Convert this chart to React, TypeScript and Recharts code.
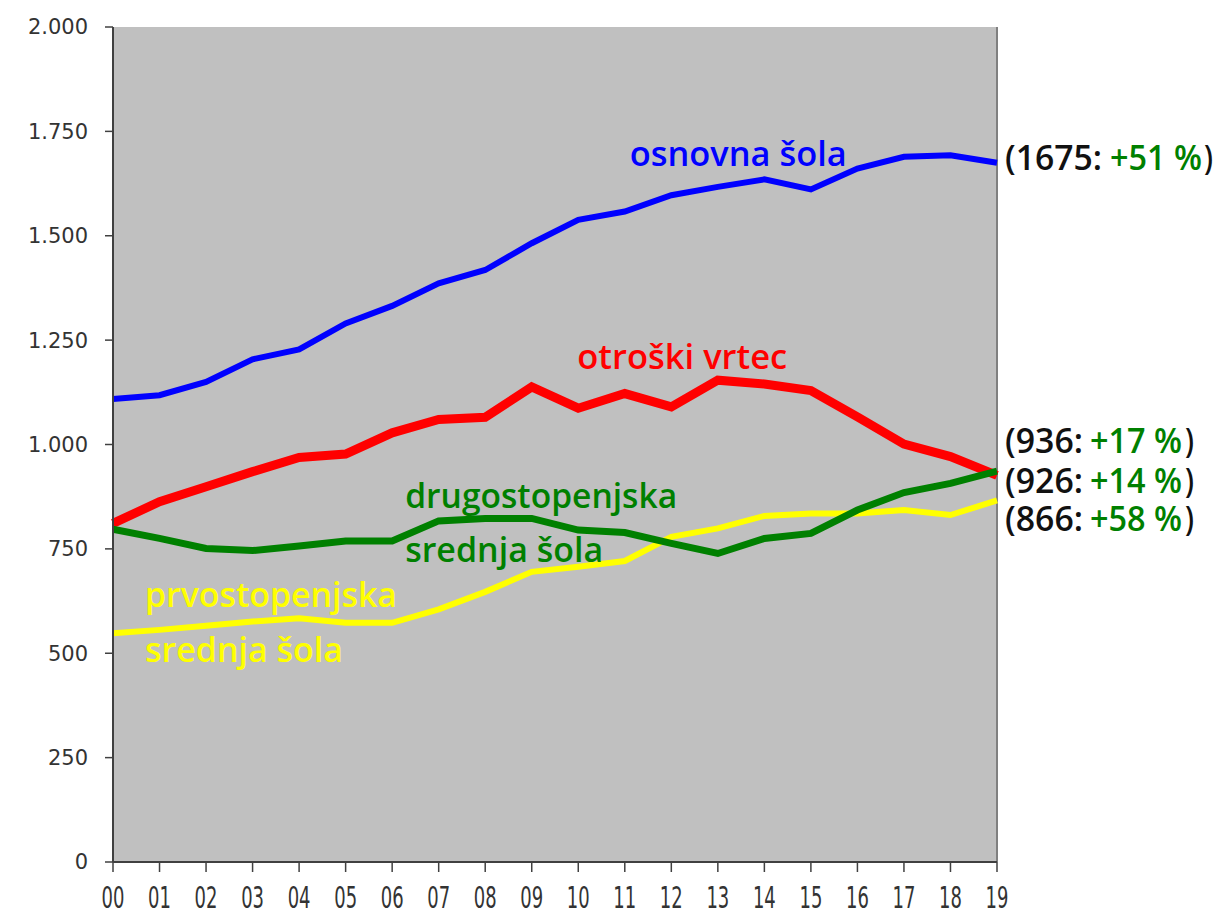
import React from "react";
import {
  LineChart,
  Line,
  XAxis,
  YAxis,
  CartesianGrid,
  ReferenceLine,
  ReferenceDot,
} from "recharts";

const years = ["00", "01", "02", "03", "04", "05", "06", "07", "08", "09", "10", "11", "12", "13", "14", "15", "16", "17", "18", "19"];
const osnovnaSola = [1109, 1118, 1150, 1204, 1228, 1290, 1332, 1386, 1418, 1482, 1538, 1558, 1597, 1617, 1635, 1611, 1661, 1689, 1693, 1675];
const otroskiVrtec = [811, 863, 899, 935, 969, 977, 1028, 1060, 1065, 1138, 1087, 1122, 1090, 1154, 1145, 1129, 1066, 1001, 971, 926];
const drugostopenjska = [797, 775, 751, 746, 757, 769, 769, 817, 823, 823, 795, 789, 763, 739, 775, 787, 843, 885, 907, 936];
const prvostopenjska = [548, 556, 566, 576, 584, 573, 573, 605, 647, 695, 707, 721, 779, 799, 829, 835, 835, 843, 831, 866];
const yTicks = [0, 250, 500, 750, 1000, 1250, 1500, 1750, 2000];

const data = years.map((y, i) => ({
  year: y,
  os: osnovnaSola[i],
  ov: otroskiVrtec[i],
  dr: drugostopenjska[i],
  pr: prvostopenjska[i],
}));

// inline series labels: anchored at a category and a value
const seriesLabels = [
  { text: "osnovna šola", x: "11", y: 1667, color: "#0000FF", dx: 5, len: 217 },
  { text: "otroški vrtec", x: "10", y: 1181, color: "#FF0000", dx: -1, len: 210 },
  { text: "drugostopenjska", x: "06", y: 848, color: "#008000", dx: 13, len: 272 },
  { text: "srednja šola", x: "06", y: 719, color: "#008000", dx: 13, len: 198 },
  { text: "prvostopenjska", x: "00", y: 611, color: "#FFFF00", dx: 32, len: 252 },
  { text: "srednja šola", x: "00", y: 479, color: "#FFFF00", dx: 32, len: 198 },
];

// end-of-line value labels
const endValues = ["1675", "936", "926", "866"];
const endChanges = ["+51 %", "+17 %", "+14 %", "+58 %"];
const endY = [1657, 980, 884, 793];

const fmt = (v: number) => (v >= 1000 ? `${Math.floor(v / 1000)}.${String(v % 1000).padStart(3, "0")}` : String(v));

const XTick = (props: any) => {
  const { x, y, payload } = props;
  return (
    <g transform={`translate(${x},${y})`}>
      <text
        transform="scale(0.6,1)"
        textAnchor="middle"
        dy={34}
        fontFamily="DejaVu Sans"
        fontSize={30}
        fill="#333333"
      >
        {payload.value}
      </text>
    </g>
  );
};

const labelFont = "'Open Sans', 'Noto Sans', sans-serif";

const EndLabel = ({ cx, cy, value, change }: any) => {
  const wide = value.length > 3;
  const blackLen = wide ? 97 : 78;
  const greenX = wide ? 105 : 85;
  const parenX = wide ? 199 : 180;
  const common = {
    y: cy,
    fontFamily: labelFont,
    fontWeight: 600,
    fontSize: 34,
    lengthAdjust: "spacingAndGlyphs" as const,
  };
  return (
    <g>
      <text {...common} x={cx + 8} fill="#111111" textLength={blackLen}>{`(${value}:`}</text>
      <text {...common} x={cx + 8 + greenX} fill="#008000" textLength={92}>{change}</text>
      <text {...common} x={cx + 8 + parenX} fill="#111111" textLength={9}>{")"}</text>
    </g>
  );
};

export default function App() {
  return (
    <div style={{ position: "absolute", left: 0, top: 0, width: 1218, height: 915, background: "#fff" }}>
      <LineChart
        width={1218}
        height={915}
        data={data}
        margin={{ top: 27, right: 221, bottom: 0, left: 0 }}
      >
        <CartesianGrid horizontal={false} vertical={false} fill="#C0C0C0" fillOpacity={1} stroke="none" />
        <ReferenceLine x="19" stroke="#808080" strokeWidth={2} />
        <XAxis
          dataKey="year"
          height={53}
          interval={0}
          tickSize={10}
          tickMargin={2}
          tick={<XTick />}
          axisLine={{ stroke: "#404040", strokeWidth: 2 }}
          tickLine={{ stroke: "#404040", strokeWidth: 1.5 }}
        />
        <YAxis
          width={113}
          domain={[0, 2000]}
          ticks={yTicks}
          interval={0}
          tickSize={8}
          tickMargin={17}
          tickFormatter={fmt}
          tick={{ fontFamily: "DejaVu Sans", fontSize: 21, fill: "#333333" }}
          axisLine={{ stroke: "#404040", strokeWidth: 2 }}
          tickLine={{ stroke: "#404040", strokeWidth: 1.5 }}
        />
        <Line dataKey="os" stroke="#0000FF" strokeWidth={6} dot={false} isAnimationActive={false} />
        <Line dataKey="ov" stroke="#FF0000" strokeWidth={9} dot={false} isAnimationActive={false} />
        <Line dataKey="pr" stroke="#FFFF00" strokeWidth={6} dot={false} isAnimationActive={false} />
        <Line dataKey="dr" stroke="#008000" strokeWidth={7} dot={false} isAnimationActive={false} />
        {seriesLabels.map((l, i) => (
          <ReferenceDot
            key={"s" + i}
            x={l.x}
            y={l.y}
            r={1}
            ifOverflow="visible"
            shape={(p: any) => (
              <text
                x={p.cx + l.dx}
                y={p.cy}
                fill={l.color}
                fontFamily={labelFont}
                fontWeight={600}
                fontSize={34}
                textLength={l.len}
                lengthAdjust="spacingAndGlyphs"
              >
                {l.text}
              </text>
            )}
          />
        ))}
        {endValues.map((v, i) => (
          <ReferenceDot
            key={"e" + i}
            x="19"
            y={endY[i]}
            r={1}
            ifOverflow="visible"
            shape={(p: any) => <EndLabel cx={p.cx} cy={p.cy} value={v} change={endChanges[i]} />}
          />
        ))}
      </LineChart>
    </div>
  );
}
